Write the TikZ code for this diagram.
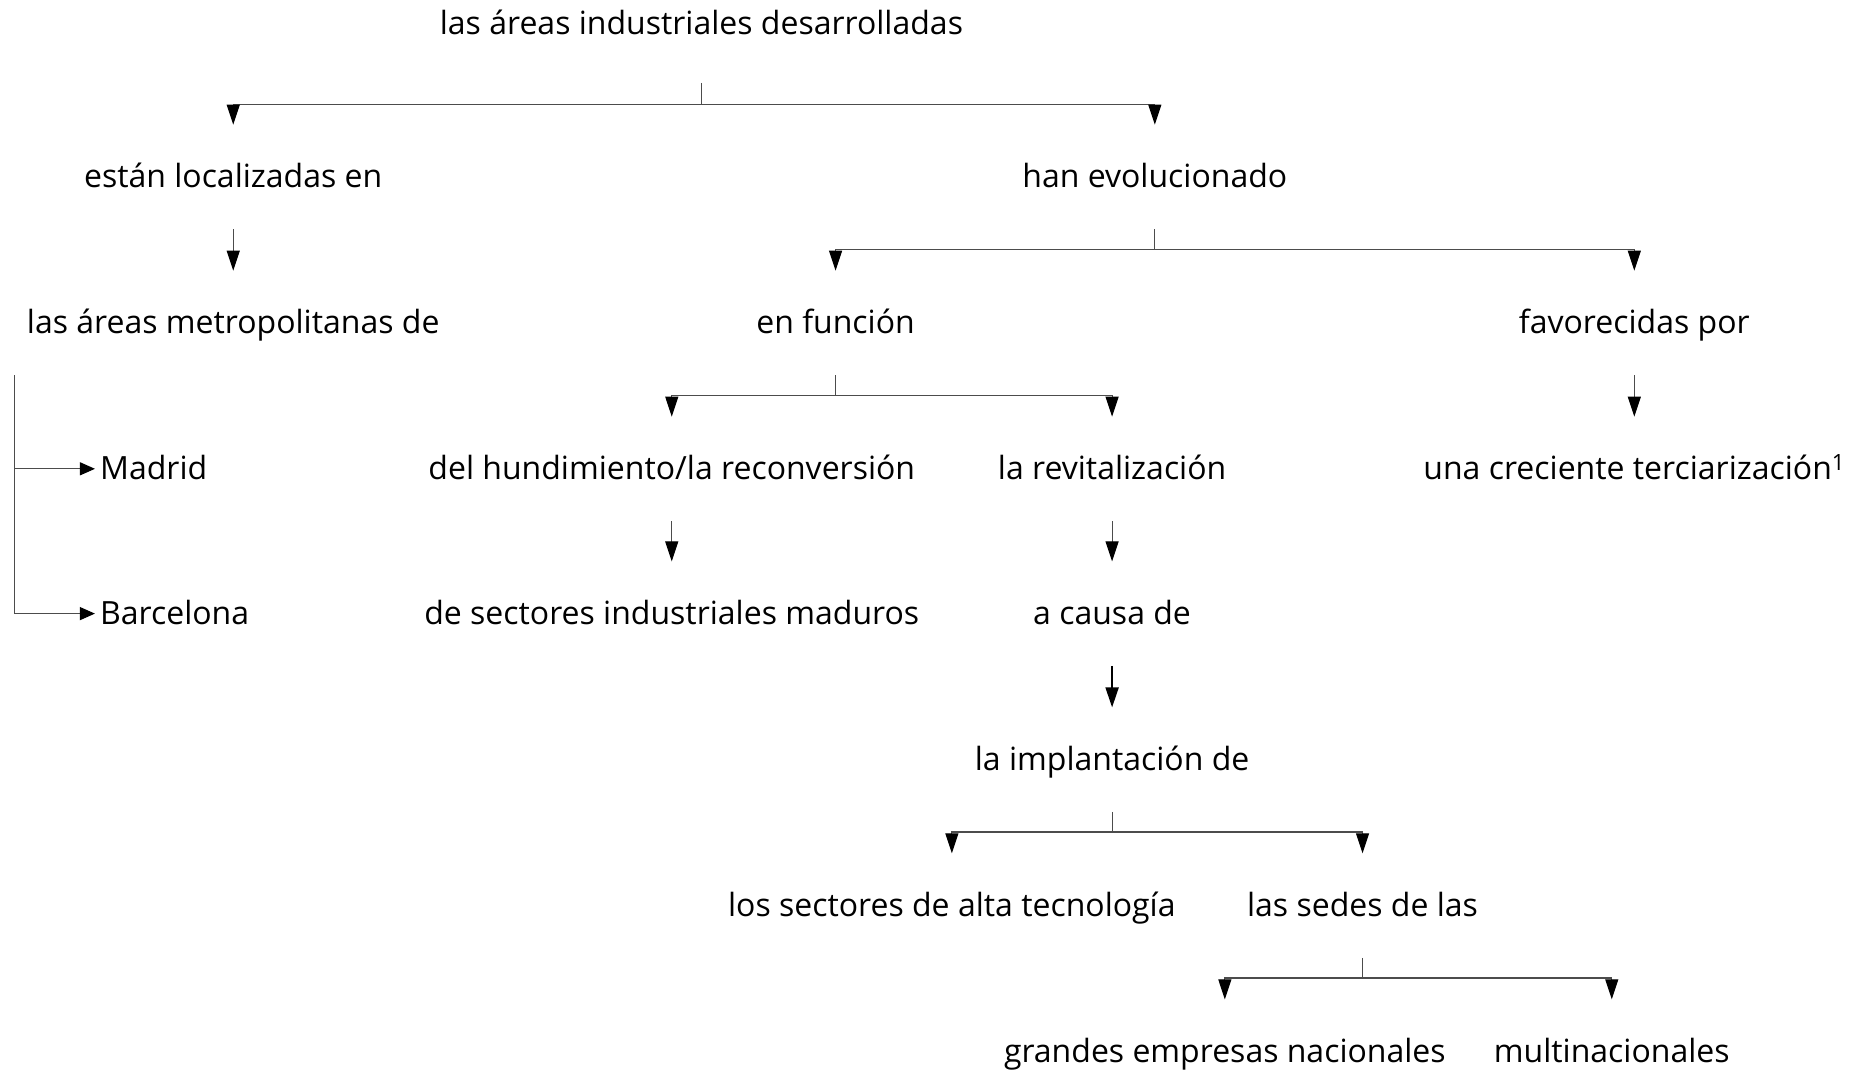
\documentclass[tikz,border=0pt]{standalone}
\usepackage{fontspec}
\setmainfont{Open Sans}
\usetikzlibrary{arrows.meta}
\begin{document}
\begin{tikzpicture}[x=1.1869pt,y=-1.1869pt,
 lbl/.style={font=\fontsize{32}{34}\selectfont, text height=22pt, text depth=1pt, minimum height=104pt, inner xsep=0pt, inner ysep=0pt},
 ln/.style={draw=black!70, line width=1.1pt},
 arr/.style={ln, -{Triangle[length=20pt,width=13pt,black]}},
 sarr/.style={ln, -{Triangle[length=15pt,width=13pt,black]}},
]
\useasboundingbox (0,0) rectangle (1568,902);
\node[lbl] (top) at (591,20) {las áreas industriales desarrolladas};
\node[lbl] (esta) at (196.5,149) {están localizadas en};
\node[lbl] (han) at (973,149) {han evolucionado};
\node[lbl] (metro) at (196.5,272) {las áreas metropolitanas de};
\node[lbl] (func) at (704,272) {en función};
\node[lbl] (fav) at (1377,272) {favorecidas por};
\node[lbl, anchor=west, inner xsep=5pt] (mad) at (80,395) {Madrid};
\node[lbl, anchor=west, inner xsep=5pt] (barc) at (80,517) {Barcelona};
\node[lbl] (hund) at (566,395) {del hundimiento/la reconversión};
\node[lbl] (revit) at (937,395) {la revitalización};
\node[lbl] (terc) at (1377,395) {una creciente terciarización\textsuperscript{1}};
\node[lbl] (sect) at (566,517) {de sectores industriales maduros};
\node[lbl] (causa) at (937,517) {a causa de};
\node[lbl] (impl) at (937,640) {la implantación de};
\node[lbl] (alta) at (802,763) {los sectores de alta tecnología};
\node[lbl] (sedes) at (1148,763) {las sedes de las};
\node[lbl] (gran) at (1032,886) {grandes empresas nacionales};
\node[lbl] (multi) at (1358,886) {multinacionales};

\draw[arr, shorten <=7pt] (top.south) -- ++(0,24) -| (esta.north);
\draw[arr] (top.south) ++(0,24) -| (han.north);
\draw[arr] (esta.south) -- (metro.north);
\draw[arr] (han.south) -- ++(0,17) -| (func.north);
\draw[arr] (han.south) ++(0,17) -| (fav.north);
\draw[arr] (func.south) -- ++(0,17) -| (hund.north);
\draw[arr] (func.south) ++(0,17) -| (revit.north);
\draw[arr] (fav.south) -- (terc.north);
\coordinate (bx) at (12,0);
\draw[sarr] (metro.south -| bx) |- (barc.west);
\draw[sarr] (bx |- mad.west) -- (mad.west);
\draw[arr] (hund.south) -- (sect.north);
\draw[arr] (revit.south) -- (causa.north);
\draw[arr, line width=2pt, draw=black] (causa.south) -- (impl.north);
\draw[arr] (impl.south) -- ++(0,17) -| (alta.north);
\draw[arr] (impl.south) ++(0,17) -| (sedes.north);
\draw[arr] (sedes.south) -- ++(0,17) -| (gran.north);
\draw[arr] (sedes.south) ++(0,17) -| (multi.north);
\end{tikzpicture}
\end{document}
